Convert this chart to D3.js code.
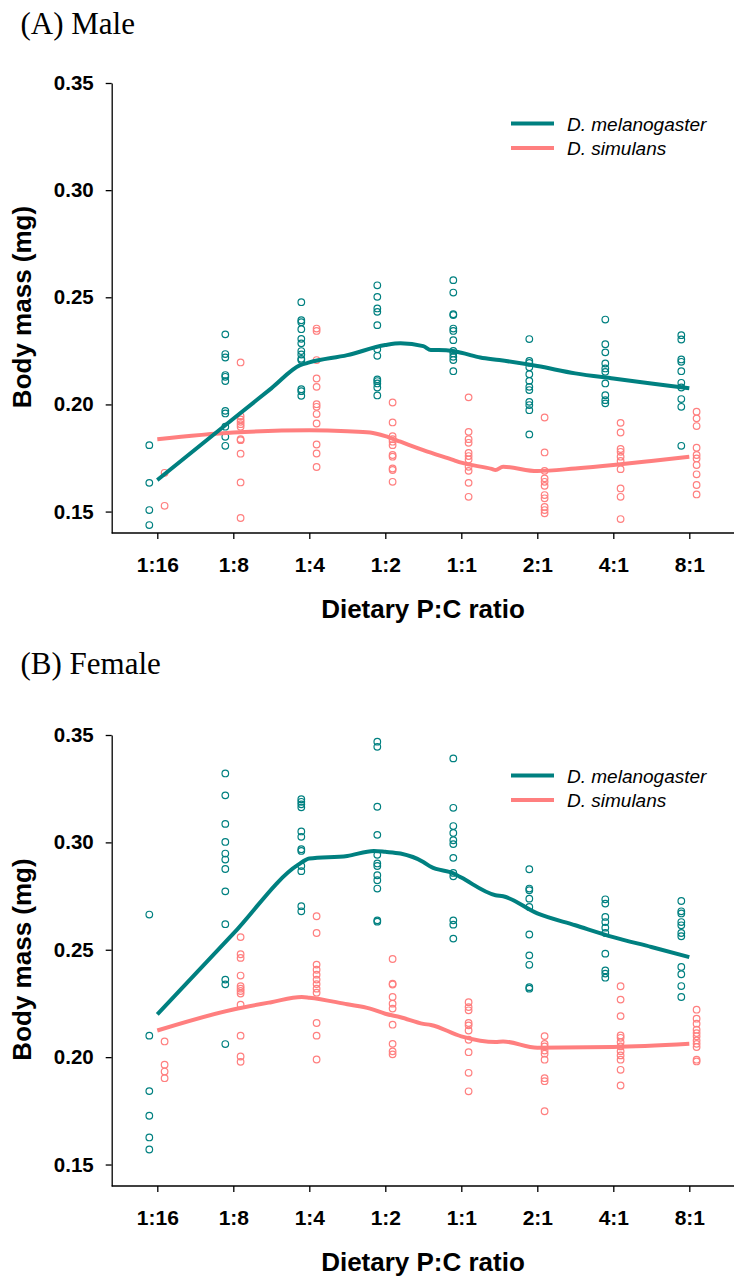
<!DOCTYPE html>
<html>
<head>
<meta charset="utf-8">
<script src="https://cdn.jsdelivr.net/npm/d3@7"></script>
<style>
  html, body { margin: 0; padding: 0; background: #fff; }
  svg { display: block; }
</style>
</head>
<body>
<svg id="chart" width="734" height="1278"></svg>
<script>
// Diet ratio categories and axis ticks
const cats = ["1:16", "1:8", "1:4", "1:2", "1:1", "2:1", "4:1", "8:1"];
const yTicks = [0.15, 0.20, 0.25, 0.30, 0.35];
const speciesNames = ["D. melanogaster", "D. simulans"];

// Individual body masses (mg), one inner list per diet category
const maleMel = [
  [0.181, 0.1634, 0.1507, 0.1437],
  [0.2327, 0.2235, 0.2219, 0.2137, 0.2129, 0.2109, 0.1970, 0.1958, 0.1896, 0.1849, 0.1807],
  [0.2477, 0.2393, 0.2384, 0.2351, 0.2306, 0.2285, 0.2249, 0.2233, 0.2213, 0.2207, 0.2071, 0.2062, 0.2040],
  [0.2556, 0.2502, 0.2448, 0.2432, 0.2370, 0.2257, 0.2227, 0.2117, 0.2109, 0.2098, 0.2079, 0.2042],
  [0.2580, 0.2522, 0.2421, 0.2417, 0.2354, 0.2343, 0.2300, 0.2250, 0.2238, 0.2222, 0.2207, 0.2155],
  [0.2305, 0.2203, 0.2194, 0.2173, 0.2141, 0.2110, 0.2082, 0.2067, 0.2012, 0.1997, 0.1973, 0.1860],
  [0.2396, 0.2281, 0.2243, 0.2191, 0.2168, 0.2152, 0.2098, 0.2043, 0.2020, 0.2005],
  [0.2323, 0.2303, 0.2210, 0.2199, 0.2155, 0.2101, 0.2079, 0.2025, 0.1989, 0.1807]
];
const maleSim = [
  [0.1681, 0.1527],
  [0.2196, 0.1945, 0.1930, 0.1919, 0.1908, 0.1896, 0.1838, 0.1833, 0.1770, 0.1636, 0.1470],
  [0.2354, 0.2343, 0.2207, 0.2121, 0.2082, 0.2001, 0.1989, 0.1955, 0.1911, 0.1813, 0.1771, 0.1708],
  [0.2009, 0.1916, 0.1852, 0.1838, 0.1826, 0.1810, 0.1764, 0.1756, 0.1701, 0.1694, 0.1639],
  [0.2033, 0.1872, 0.1838, 0.1821, 0.1774, 0.1759, 0.1743, 0.1709, 0.1690, 0.1634, 0.1569],
  [0.1939, 0.1776, 0.1690, 0.1655, 0.1639, 0.1620, 0.1577, 0.1562, 0.1522, 0.1507, 0.1492],
  [0.1914, 0.1869, 0.1792, 0.1779, 0.1756, 0.1736, 0.1698, 0.1608, 0.1569, 0.1465],
  [0.1966, 0.1935, 0.1899, 0.1798, 0.1764, 0.1748, 0.1717, 0.1674, 0.1624, 0.1580]
];
const femaleMel = [
  [0.2664, 0.2100, 0.1842, 0.1727, 0.1626, 0.1570],
  [0.3321, 0.3219, 0.3086, 0.3002, 0.2948, 0.2920, 0.2876, 0.2772, 0.2619, 0.2361, 0.2339, 0.2061],
  [0.3201, 0.3189, 0.3177, 0.3163, 0.3051, 0.3026, 0.2968, 0.2960, 0.2890, 0.2866, 0.2703, 0.2679],
  [0.3469, 0.3445, 0.3166, 0.3035, 0.2942, 0.2902, 0.2890, 0.2847, 0.2824, 0.2785, 0.2637, 0.2631],
  [0.3391, 0.3161, 0.3076, 0.3044, 0.3010, 0.2992, 0.2928, 0.2858, 0.2842, 0.2637, 0.2617, 0.2552],
  [0.2875, 0.2785, 0.2777, 0.2738, 0.2699, 0.2571, 0.2474, 0.2430, 0.2326, 0.2319],
  [0.2735, 0.2715, 0.2653, 0.2629, 0.2603, 0.2578, 0.2482, 0.2404, 0.2389, 0.2370],
  [0.2727, 0.2679, 0.2669, 0.2629, 0.2614, 0.2578, 0.2563, 0.2420, 0.2386, 0.2331, 0.2280]
];
const femaleSim = [
  [0.2073, 0.1965, 0.1933, 0.1902],
  [0.2559, 0.2479, 0.2462, 0.2380, 0.2330, 0.2319, 0.2308, 0.2296, 0.2244, 0.2100, 0.2003, 0.1978],
  [0.2656, 0.2578, 0.2431, 0.2407, 0.2384, 0.2361, 0.2340, 0.2319, 0.2300, 0.2159, 0.2100, 0.1989],
  [0.2457, 0.2342, 0.2338, 0.2280, 0.2249, 0.2226, 0.2151, 0.2062, 0.2027, 0.2013],
  [0.2256, 0.2233, 0.2218, 0.2159, 0.2148, 0.2124, 0.2081, 0.2023, 0.1927, 0.1841],
  [0.2098, 0.2062, 0.2050, 0.2031, 0.2016, 0.1988, 0.1902, 0.1888, 0.1748],
  [0.2330, 0.2268, 0.2191, 0.2101, 0.2090, 0.2070, 0.2050, 0.2028, 0.2008, 0.1988, 0.1941, 0.1868],
  [0.2221, 0.2179, 0.2156, 0.2128, 0.2112, 0.2097, 0.2078, 0.2062, 0.2047, 0.1988, 0.1980]
];

// Smoothed fits: [position in category steps (0 = 1:16 ... 7 = 8:1), mass]
const maleMelFit = [
  [0, 0.1647], [1, 0.1933], [1.5, 0.2075], [1.88, 0.2183], [2, 0.2196], [2.5, 0.2230],
  [3, 0.2277], [3.2, 0.2285], [3.5, 0.2272], [3.6, 0.2254], [3.8, 0.2253], [4, 0.2241],
  [4.25, 0.2219], [4.5, 0.2207], [5, 0.2179], [5.5, 0.2145], [6, 0.2121], [6.5, 0.2098], [7, 0.2075]
];
const maleSimFit = [
  [0, 0.1838], [1, 0.1869], [2, 0.1879], [2.5, 0.1875], [2.8, 0.1869], [3, 0.1852],
  [3.2, 0.1826], [3.5, 0.1787], [3.9, 0.1740], [4, 0.1728], [4.4, 0.1699], [4.45, 0.1694],
  [4.55, 0.1709], [5, 0.1689], [5.5, 0.1701], [6, 0.1717], [6.5, 0.1736], [7, 0.1756]
];
const femaleMelFit = [
  [0, 0.2199], [1, 0.2575], [1.85, 0.2895], [2, 0.2925], [2.5, 0.2937], [2.85, 0.2960],
  [3, 0.2956], [3.2, 0.2948], [3.5, 0.2909], [3.6, 0.2886], [3.9, 0.2855], [4, 0.2836],
  [4.45, 0.2754], [4.55, 0.2749], [5, 0.2669], [5.5, 0.2614], [6, 0.2559], [6.5, 0.2513], [7, 0.2466]
];
const femaleSimFit = [
  [0, 0.2124], [1, 0.2222], [1.5, 0.2256], [1.9, 0.2280], [2, 0.2277], [2.5, 0.2246],
  [2.8, 0.2226], [3, 0.2202], [3.2, 0.2186], [3.5, 0.2155], [3.6, 0.2150], [4, 0.2097],
  [4.45, 0.2070], [4.55, 0.2073], [5, 0.2044], [6, 0.2047], [7, 0.2062]
];

const COL_MEL = "#008080";
const COL_SIM = "#ff7f7f";
const SANS = "'Liberation Sans', Arial, sans-serif";
const SERIF = "'Liberation Serif', 'Times New Roman', serif";

const svg = d3.select("#chart");

const panels = [
  { title: "(A) Male", mel: maleMel, sim: maleSim, melFit: maleMelFit, simFit: maleSimFit, top: 83, bottom: 533, titleY: 34 },
  { title: "(B) Female", mel: femaleMel, sim: femaleSim, melFit: femaleMelFit, simFit: femaleSimFit, top: 735, bottom: 1186, titleY: 674 }
];

const axisX0 = 111.7;
const x = d3.scalePoint().domain(cats).range([157.3, 689.3]);
const xi = d3.scaleLinear().domain([0, cats.length - 1]).range([157.3, 689.3]);

panels.forEach(p => {
  const g = svg.append("g");
  const y = d3.scaleLinear().domain([0.14, 0.35]).range([p.bottom, p.top]);

  // panel title
  g.append("text")
    .attr("x", 20.5).attr("y", p.titleY)
    .attr("font-family", SERIF).attr("font-size", 31)
    .text(p.title);

  // y axis
  const ya = g.append("g")
    .attr("transform", `translate(${axisX0},0)`)
    .call(d3.axisLeft(y).tickValues(yTicks).tickFormat(d3.format(".2f"))
      .tickSize(6).tickSizeOuter(0).tickPadding(12));
  ya.selectAll("path, line").attr("stroke", "#000").attr("stroke-width", 1.3);
  ya.selectAll("text").attr("font-family", SANS).attr("font-weight", "bold")
    .attr("font-size", 20.5).attr("fill", "#000");

  // x axis
  const xa = g.append("g")
    .attr("transform", `translate(0,${p.bottom})`)
    .call(d3.axisBottom(x).tickSize(6).tickPadding(18));
  xa.select(".domain").remove();
  xa.selectAll("line").attr("stroke", "#000").attr("stroke-width", 1.3);
  xa.selectAll("text").attr("font-family", SANS).attr("font-weight", "bold")
    .attr("font-size", 21).attr("fill", "#000");
  g.append("line")
    .attr("x1", axisX0).attr("x2", 734)
    .attr("y1", p.bottom).attr("y2", p.bottom)
    .attr("stroke", "#000").attr("stroke-width", 1.3);

  // axis titles
  g.append("text")
    .attr("x", 423).attr("y", p.bottom + 85)
    .attr("text-anchor", "middle")
    .attr("font-family", SANS).attr("font-weight", "bold").attr("font-size", 26)
    .text("Dietary P:C ratio");
  g.append("text")
    .attr("transform", `translate(31,${(p.top + p.bottom) / 2 - 1}) rotate(-90)`)
    .attr("text-anchor", "middle")
    .attr("font-family", SANS).attr("font-weight", "bold").attr("font-size", 26)
    .text("Body mass (mg)");

  // individual points
  const pts = (series, dx, col) => {
    const flat = [];
    series.forEach((vals, i) => vals.forEach(v => flat.push({ c: cats[i], v })));
    g.append("g").selectAll("circle").data(flat).join("circle")
      .attr("cx", d => x(d.c) + dx)
      .attr("cy", d => y(d.v))
      .attr("r", 3.3)
      .attr("fill", "none")
      .attr("stroke", col)
      .attr("stroke-width", 1.2);
  };
  pts(p.mel, -8, COL_MEL);
  pts(p.sim, 7.3, COL_SIM);

  // fitted curves
  const line = d3.line().x(d => xi(d[0])).y(d => y(d[1])).curve(d3.curveMonotoneX);
  g.append("path").datum(p.simFit).attr("d", line)
    .attr("fill", "none").attr("stroke", COL_SIM).attr("stroke-width", 4).attr("stroke-linejoin", "round");
  g.append("path").datum(p.melFit).attr("d", line)
    .attr("fill", "none").attr("stroke", COL_MEL).attr("stroke-width", 4).attr("stroke-linejoin", "round");

  // legend
  const lg = g.append("g").attr("transform", `translate(511,${p.top + 40.5})`);
  [COL_MEL, COL_SIM].forEach((col, i) => {
    lg.append("line").attr("x1", 0).attr("x2", 43)
      .attr("y1", i * 24.4).attr("y2", i * 24.4)
      .attr("stroke", col).attr("stroke-width", 4);
    lg.append("text").attr("x", 56).attr("y", i * 24.4 + 7)
      .attr("font-family", SANS).attr("font-style", "italic").attr("font-size", 19)
      .text(speciesNames[i]);
  });
});
</script>
</body>
</html>
